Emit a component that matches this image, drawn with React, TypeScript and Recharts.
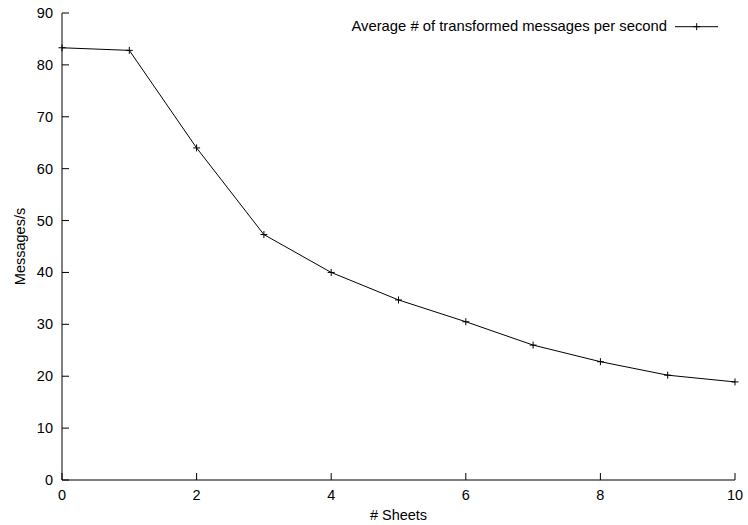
import { LineChart, Line, XAxis, YAxis, Legend } from "recharts";

const sheets = [0, 1, 2, 3, 4, 5, 6, 7, 8, 9, 10];
const messagesPerSecond = [83.3, 82.8, 64.0, 47.3, 40.0, 34.7, 30.5, 26.0, 22.8, 20.2, 18.9];
const xTicks = [0, 2, 4, 6, 8, 10];
const yTicks = [0, 10, 20, 30, 40, 50, 60, 70, 80, 90];
const seriesName = "Average # of transformed messages per second";

const FONT = "'Liberation Sans', Arial, Helvetica, sans-serif";
const FS = 14.5;
const TICK_LEN = 7;

const data = sheets.map((s, i) => ({ sheets: s, rate: messagesPerSecond[i] }));

const BottomTick = (props: any) => {
  const { x, y, payload } = props;
  return (
    <g>
      <line x1={x} x2={x} y1={y} y2={y - TICK_LEN} stroke="#000" />
      <text x={x} y={y + 20} textAnchor="middle" fontFamily={FONT} fontSize={FS} fill="#000">
        {payload.value}
      </text>
    </g>
  );
};

const TopTick = (props: any) => {
  const { x, y } = props;
  return <line x1={x} x2={x} y1={y} y2={y + TICK_LEN} stroke="#000" />;
};

const LeftTick = (props: any) => {
  const { x, y, payload } = props;
  return (
    <g>
      <line x1={x} x2={x + TICK_LEN} y1={y} y2={y} stroke="#000" />
      <text x={x - 9} y={y + 5} textAnchor="end" fontFamily={FONT} fontSize={FS} fill="#000">
        {payload.value}
      </text>
    </g>
  );
};

const RightTick = (props: any) => {
  const { x, y } = props;
  return <line x1={x} x2={x - TICK_LEN} y1={y} y2={y} stroke="#000" />;
};

const PlusDot = (props: any) => {
  const { cx, cy, index } = props;
  return (
    <g key={`dot-${index}`}>
      <line x1={cx - 3.5} x2={cx + 3.5} y1={cy} y2={cy} stroke="#000" />
      <line x1={cx} x2={cx} y1={cy - 3.5} y2={cy + 3.5} stroke="#000" />
    </g>
  );
};

const LegendContent = () => (
  <svg width={400} height={22} style={{ display: "block" }}>
    <text x={337} y={14} textAnchor="end" fontFamily={FONT} fontSize={14.8} fill="#000">
      {seriesName}
    </text>
    <line x1={345} x2={388} y1={9.7} y2={9.7} stroke="#000" />
    <line x1={363.2} x2={370.2} y1={9.7} y2={9.7} stroke="#000" />
    <line x1={366.7} x2={366.7} y1={6.2} y2={13.2} stroke="#000" />
  </svg>
);

export default function App() {
  return (
    <div style={{ position: "absolute", left: 0, top: 0, width: 748, height: 525, background: "#fff" }}>
      <LineChart
        width={748}
        height={525}
        data={data}
        margin={{ top: 13, right: 13, bottom: 0, left: 0 }}
        style={{ fontFamily: FONT }}
      >
        <XAxis
          dataKey="sheets"
          type="number"
          domain={[0, 10]}
          ticks={xTicks}
          height={45}
          tickSize={0}
          tickMargin={0}
          tickLine={false}
          tick={<BottomTick />}
          axisLine={{ stroke: "#000" }}
          interval={0}
          label={{
            value: "# Sheets",
            position: "insideBottom",
            offset: 5,
            style: { fontFamily: FONT, fontSize: FS, fill: "#000" },
          }}
        />
        <XAxis
          xAxisId="top"
          orientation="top"
          dataKey="sheets"
          type="number"
          domain={[0, 10]}
          ticks={xTicks}
          height={0}
          tickSize={0}
          tickMargin={0}
          tickLine={false}
          tick={<TopTick />}
          axisLine={{ stroke: "#000" }}
          interval={0}
        />
        <YAxis
          type="number"
          domain={[0, 90]}
          ticks={yTicks}
          width={62}
          tickSize={0}
          tickMargin={0}
          tickLine={false}
          tick={<LeftTick />}
          axisLine={{ stroke: "#000" }}
          interval={0}
          label={{
            value: "Messages/s",
            angle: -90,
            position: "insideLeft",
            offset: 20,
            style: { fontFamily: FONT, fontSize: FS, fill: "#000", textAnchor: "middle" },
          }}
        />
        <YAxis
          yAxisId="right"
          orientation="right"
          type="number"
          domain={[0, 90]}
          ticks={yTicks}
          width={0}
          tickSize={0}
          tickMargin={0}
          tickLine={false}
          tick={<RightTick />}
          axisLine={{ stroke: "#000" }}
          interval={0}
        />
        <Legend
          layout="horizontal"
          verticalAlign="middle"
          align="center"
          content={<LegendContent />}
          wrapperStyle={{ position: "absolute", left: 330, top: 17, width: 400, height: 22 }}
        />
        <Line
          type="linear"
          dataKey="rate"
          name={seriesName}
          stroke="#000"
          strokeWidth={1}
          dot={<PlusDot />}
          activeDot={false}
          isAnimationActive={false}
        />
      </LineChart>
    </div>
  );
}
